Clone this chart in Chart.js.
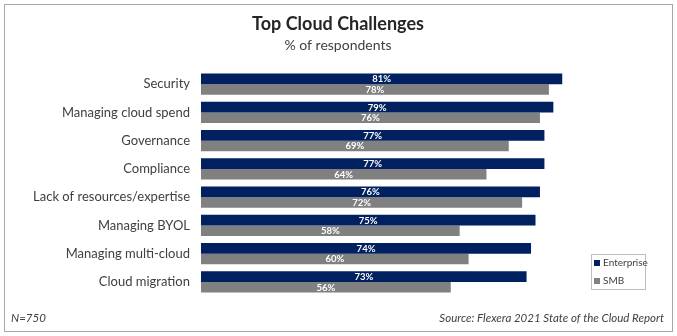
<!DOCTYPE html>
<html>
<head>
<meta charset="utf-8">
<script src="https://cdn.jsdelivr.net/npm/chart.js@4"></script>
<style>
  html, body { margin: 0; padding: 0; background: #fff; }
  #wrap { width: 677px; height: 336px; position: relative; }
</style>
</head>
<body>
<div id="wrap"><canvas id="cloudChart"></canvas></div>
<script>
const categories = [
  "Security",
  "Managing cloud spend",
  "Governance",
  "Compliance",
  "Lack of resources/expertise",
  "Managing BYOL",
  "Managing multi-cloud",
  "Cloud migration",
];
const enterprise = [81, 79, 77, 77, 76, 75, 74, 73];
const smb = [78, 76, 69, 64, 72, 58, 60, 56];

const FONT = "Lato, 'Liberation Sans', sans-serif";

// frame, titles, footer, legend and value labels
const decorations = {
  id: "decorations",
  beforeDraw(chart) {
    const c = chart.ctx;
    c.save();
    c.strokeStyle = "#a6a6a6";
    c.lineWidth = 1;
    c.strokeRect(4.5, 4.5, 668, 327);
    c.restore();
  },
  afterDatasetsDraw(chart) {
    const c = chart.ctx;
    c.save();
    c.fillStyle = "#262626";
    c.textAlign = "center";
    c.textBaseline = "middle";
    c.font = "bold 18px " + FONT;
    c.fillText("Top Cloud Challenges", 338, 24);
    c.font = "14px " + FONT;
    c.fillStyle = "#404040";
    c.fillText("% of respondents", 338, 45);

    c.font = "italic 11.5px " + FONT;
    c.textAlign = "left";
    c.fillText("N=750", 11, 318);
    c.textAlign = "right";
    c.fillText("Source: Flexera 2021 State of the Cloud Report", 664, 318);

    // value labels
    c.font = "bold 9.5px " + FONT;
    c.fillStyle = "#ffffff";
    c.textAlign = "center";
    chart.data.datasets.forEach((ds, i) => {
      chart.getDatasetMeta(i).data.forEach((bar, j) => {
        c.fillText(ds.data[j] + "%", (bar.base + bar.x) / 2, bar.y + 0.5);
      });
    });

    // legend
    c.strokeStyle = "#bfbfbf";
    c.strokeRect(591.5, 254.5, 54, 35);
    c.font = "10px " + FONT;
    c.textAlign = "left";
    chart.data.datasets.forEach((ds, i) => {
      const y = 263 + i * 18;
      c.fillStyle = ds.backgroundColor;
      c.fillRect(594, y - 3, 6, 6);
      c.fillStyle = "#404040";
      c.fillText(ds.label, 603, y);
    });
    c.restore();
  },
};

new Chart(document.getElementById("cloudChart"), {
  type: "bar",
  data: {
    labels: categories,
    datasets: [
      {
        label: "Enterprise",
        data: enterprise,
        backgroundColor: "#002060",
        borderColor: "#4a6a9c",
        borderWidth: 0,
        barPercentage: 1,
        categoryPercentage: 0.75,
      },
      {
        label: "SMB",
        data: smb,
        backgroundColor: "#808080",
        borderWidth: 0,
        barPercentage: 1,
        categoryPercentage: 0.75,
      },
    ],
  },
  options: {
    indexAxis: "y",
    responsive: true,
    maintainAspectRatio: false,
    animation: false,
    layout: { padding: { left: 5, top: 70, right: 30, bottom: 40 } },
    scales: {
      x: { min: 0, max: 100, display: false },
      y: {
        grid: { display: false, drawTicks: false },
        border: { display: false },
        afterFit: (s) => { s.width = 196; },
        ticks: {
          padding: 11,
          color: "#404040",
          font: { family: FONT, size: 13 },
        },
      },
    },
    plugins: {
      legend: { display: false },
      tooltip: { enabled: false },
    },
  },
  plugins: [decorations],
});
</script>
</body>
</html>
